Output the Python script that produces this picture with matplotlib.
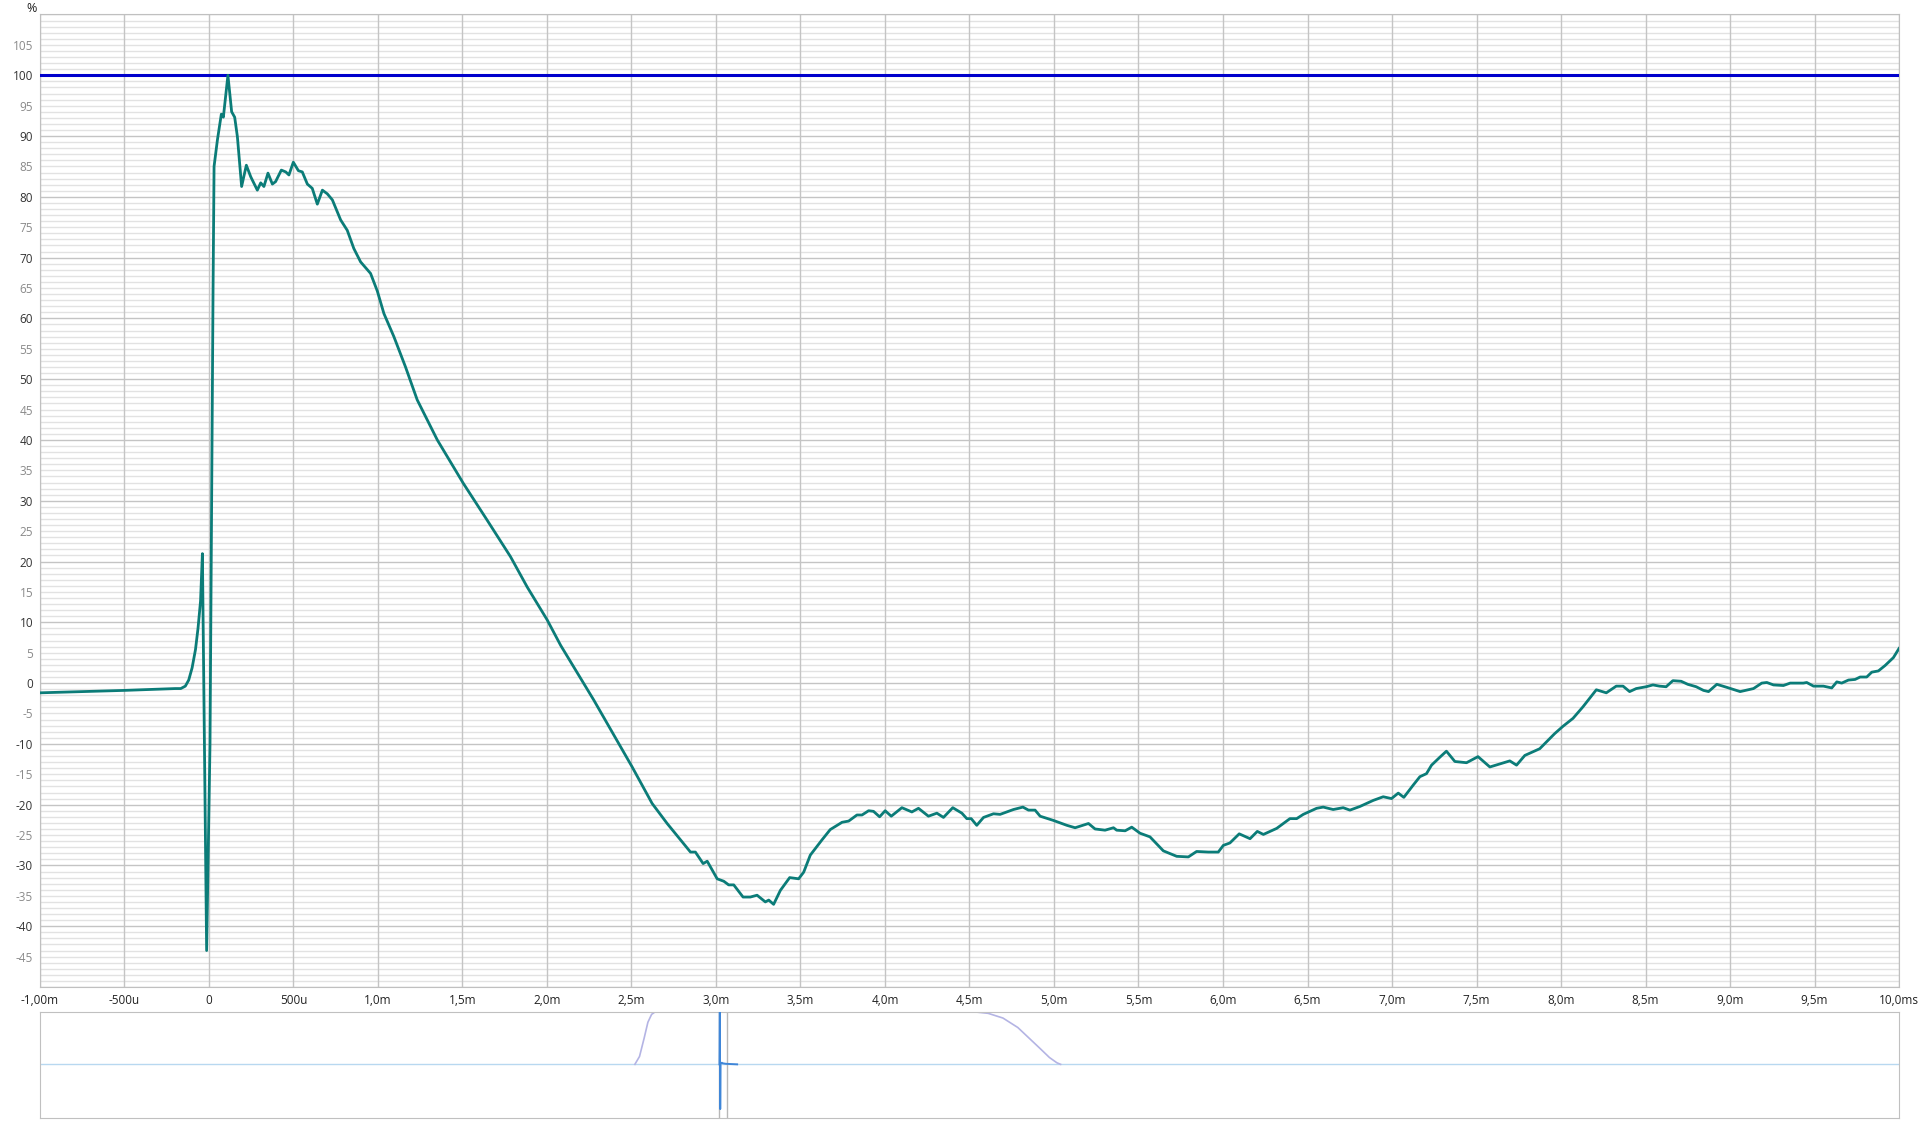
import numpy as np
import matplotlib
matplotlib.use("Agg")
import matplotlib.pyplot as plt

plt.rcParams['font.family'] = ['Open Sans', 'DejaVu Sans']

# main trace: time in ms, level in %
time_ms = [
    -1.0, -0.5, -0.2, -0.167, -0.14, -0.12, -0.10, -0.08, -0.065, -0.05, -0.039,
    -0.014, 0.006, 0.024, 0.030,
    0.050, 0.073, 0.085, 0.112, 0.134, 0.152, 0.168, 0.193, 0.221, 0.247, 0.286,
    0.306, 0.325, 0.349, 0.375, 0.394, 0.428, 0.454, 0.473, 0.499, 0.529, 0.552,
    0.582, 0.611, 0.641, 0.671, 0.700, 0.730, 0.779, 0.818, 0.857, 0.897, 0.956,
    0.996, 1.035, 1.094, 1.163, 1.232, 1.351, 1.504, 1.646, 1.784, 1.883, 2.001,
    2.081, 2.277, 2.504, 2.622, 2.711, 2.849, 2.878, 2.924, 2.948, 3.007, 3.046,
    3.075, 3.105, 3.160, 3.203, 3.243, 3.292, 3.312, 3.341, 3.381, 3.436, 3.489,
    3.519, 3.558, 3.627, 3.676, 3.746, 3.785, 3.834, 3.864, 3.903, 3.932, 3.968,
    4.001, 4.037, 4.100, 4.159, 4.198, 4.257, 4.307, 4.346, 4.401, 4.455, 4.484,
    4.510, 4.543, 4.583, 4.642, 4.681, 4.760, 4.816, 4.849, 4.888, 4.918, 4.997,
    5.076, 5.125, 5.204, 5.243, 5.302, 5.352, 5.371, 5.421, 5.460, 5.509, 5.568,
    5.647, 5.726, 5.795, 5.844, 5.913, 5.972, 6.002, 6.041, 6.096, 6.160, 6.203,
    6.239, 6.318, 6.396, 6.436, 6.475, 6.554, 6.593, 6.652, 6.711, 6.751, 6.810,
    6.889, 6.948, 6.997, 7.037, 7.070, 7.125, 7.165, 7.204, 7.234, 7.283, 7.322,
    7.372, 7.441, 7.509, 7.579, 7.638, 7.697, 7.737, 7.786, 7.874, 7.963, 8.012,
    8.071, 8.130, 8.209, 8.268, 8.327, 8.367, 8.406, 8.445, 8.504, 8.544, 8.583,
    8.622, 8.662, 8.711, 8.750, 8.800, 8.843, 8.873, 8.922, 8.981, 9.060, 9.139,
    9.188, 9.218, 9.257, 9.316, 9.356, 9.434, 9.454, 9.494, 9.553, 9.602, 9.632,
    9.661, 9.701, 9.740, 9.770, 9.809, 9.839, 9.878, 9.918, 9.967, 10.0,
]
level_pct = [
    -1.6, -1.2, -0.9, -0.9, -0.5, 0.5, 2.5, 5.5, 9.0, 13.5, 21.3,
    -44.0, -10.0, 64.7, 85.0,
    89.4, 93.6, 93.1, 100.0, 94.0, 93.1, 89.9, 81.7, 85.2, 83.3, 81.1,
    82.3, 81.7, 83.9, 82.1, 82.5, 84.4, 84.1, 83.6, 85.7, 84.3, 84.1,
    82.1, 81.4, 78.8, 81.1, 80.5, 79.5, 76.2, 74.5, 71.5, 69.3, 67.4,
    64.5, 60.8, 57.0, 52.0, 46.6, 40.0, 32.9, 26.8, 20.8, 15.8, 10.4,
    6.2, -2.8, -13.8, -19.8, -23.1, -27.8, -27.8, -29.7, -29.3, -32.2, -32.6,
    -33.2, -33.2, -35.2, -35.2, -34.9, -36.0, -35.7, -36.4, -34.1, -32.0, -32.2,
    -31.1, -28.3, -25.8, -24.1, -22.9, -22.7, -21.7, -21.7, -21.0, -21.1, -22.0,
    -21.0, -21.9, -20.5, -21.2, -20.6, -21.9, -21.4, -22.1, -20.5, -21.4, -22.3,
    -22.3, -23.4, -22.1, -21.5, -21.6, -20.8, -20.4, -20.9, -20.9, -21.9, -22.6,
    -23.4, -23.8, -23.1, -24.0, -24.2, -23.8, -24.2, -24.3, -23.7, -24.7, -25.3,
    -27.6, -28.5, -28.6, -27.7, -27.8, -27.8, -26.7, -26.3, -24.8, -25.6, -24.4,
    -24.9, -23.9, -22.3, -22.3, -21.6, -20.6, -20.4, -20.8, -20.5, -20.9, -20.3,
    -19.3, -18.7, -19.0, -18.1, -18.8, -16.8, -15.4, -14.9, -13.5, -12.2, -11.2,
    -12.9, -13.1, -12.1, -13.8, -13.3, -12.8, -13.5, -11.9, -10.8, -8.3, -7.1,
    -5.8, -3.9, -1.1, -1.6, -0.5, -0.5, -1.4, -0.9, -0.6, -0.3, -0.5,
    -0.6, 0.4, 0.3, -0.2, -0.6, -1.2, -1.4, -0.2, -0.7, -1.4, -0.9,
    0.0, 0.1, -0.3, -0.4, 0.0, 0.0, 0.1, -0.5, -0.5, -0.8, 0.2,
    0.0, 0.5, 0.6, 1.0, 1.0, 1.8, 2.0, 2.9, 4.2, 5.7,
]
reference_level = 100

x_ticks = np.arange(-1.0, 10.01, 0.5)
x_tick_labels = ["-1,00m", "-500u", "0", "500u", "1,0m", "1,5m", "2,0m", "2,5m",
                 "3,0m", "3,5m", "4,0m", "4,5m", "5,0m", "5,5m", "6,0m", "6,5m",
                 "7,0m", "7,5m", "8,0m", "8,5m", "9,0m", "9,5m", "10,0ms"]
y_ticks = np.arange(-45, 106, 5)

# overview strip (whole response, normalised time)
win_x = [0.320, 0.3225, 0.325, 0.327, 0.329, 0.331, 0.502, 0.510, 0.518, 0.526,
         0.532, 0.538, 0.543, 0.547, 0.549]
win_y = [0.0, 0.15, 0.5, 0.8, 0.95, 1.0, 1.0, 0.97, 0.88, 0.7, 0.5, 0.3, 0.13,
         0.03, 0.0]
imp_x = [0.3655, 0.3657, 0.3659, 0.3661, 0.3668, 0.3672, 0.369, 0.375]
imp_y = [0.0, 1.0, -0.85, 0.02, 0.03, 0.02, 0.01, 0.0]
sel_left, sel_right = 0.3655, 0.3695

fig = plt.figure(figsize=(19.19, 11.22), dpi=100)
ax = fig.add_axes([0.02084, 0.12032, 0.96874, 0.86676])

ax.set_xlim(-1.0, 10.0)
ax.set_ylim(-50, 110)

# grid
for yv in np.arange(-50, 111, 1):
    major = yv % 10 == 0
    ax.axhline(yv, color='#c4c4c4' if major else '#e2e2e2', lw=1.0, zorder=0)
for xv in x_ticks:
    ax.axvline(xv, color='#c4c4c4', lw=1.0, zorder=0)

ax.axhline(reference_level, color='#0000cc', lw=2.2, zorder=3)
ax.plot(time_ms, level_pct, color='#0b7c78', lw=2.0, zorder=4,
        solid_joinstyle='round')

ax.set_xticks(x_ticks)
ax.set_xticklabels(x_tick_labels, fontsize=8.5, color='#222222')
ax.set_yticks(y_ticks)
ax.set_yticklabels([str(v) for v in y_ticks], fontsize=8.5)
for v, lab in zip(y_ticks, ax.get_yticklabels()):
    lab.set_color('#333333' if v % 10 == 0 else '#8a8a8a')
ax.tick_params(length=0, pad=5)
for s in ax.spines.values():
    s.set_color('#c0c0c0')

fig.text(0.0167, 0.9985, '%', fontsize=9, va='top', ha='center', color='#222222')

# overview panel
ov = fig.add_axes([0.02084, 0.00357, 0.96874, 0.0947])
ov.set_xlim(0, 1)
ov.set_ylim(-1.02, 1.0)
ov.axhline(0, color='#b8d8f0', lw=1.0, zorder=1)
ov.plot(win_x, win_y, color='#b4b4e4', lw=1.2, zorder=2)
ov.axvline(sel_left, color='#b8b8b8', lw=1.0, zorder=2)
ov.axvline(sel_right, color='#b8b8b8', lw=1.0, zorder=2)
ov.plot(imp_x, imp_y, color='#3f86d8', lw=1.4, zorder=3)
ov.set_xticks([])
ov.set_yticks([])
for s in ov.spines.values():
    s.set_color('#c0c0c0')

fig.savefig('out.png', dpi=100)
